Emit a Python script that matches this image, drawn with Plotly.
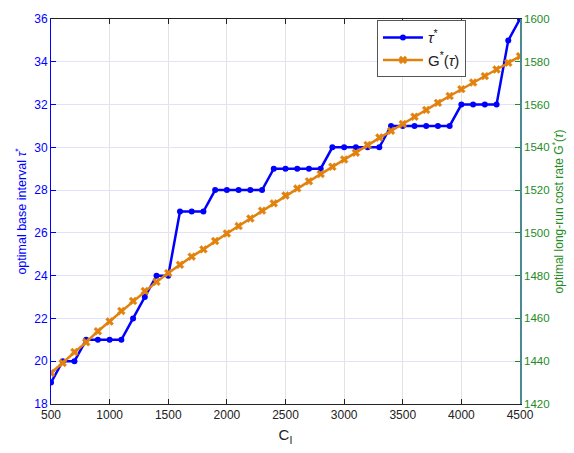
import plotly.graph_objects as go

# Inventory cost parameter C_I
c_i = [500, 600, 700, 800, 900, 1000, 1100, 1200, 1300, 1400, 1500,
       1600, 1700, 1800, 1900, 2000, 2100, 2200, 2300, 2400, 2500,
       2600, 2700, 2800, 2900, 3000, 3100, 3200, 3300, 3400, 3500,
       3600, 3700, 3800, 3900, 4000, 4100, 4200, 4300, 4400, 4500]

# Optimal base interval tau*
tau_opt = [19, 20, 20, 21, 21, 21, 21, 22, 23, 24, 24,
           27, 27, 27, 28, 28, 28, 28, 28, 29, 29,
           29, 29, 29, 30, 30, 30, 30, 30, 31, 31,
           31, 31, 31, 31, 32, 32, 32, 32, 35, 36]

# Optimal long-run cost rate G*(tau)
g_opt = [1434.5, 1439.2, 1444.3, 1448.9, 1454.0, 1458.6, 1463.5, 1468.2,
         1472.8, 1477.1, 1481.2, 1485.1, 1488.9, 1492.3, 1496.2, 1499.7,
         1503.2, 1506.7, 1510.4, 1513.8, 1517.5, 1520.8, 1524.1, 1527.5,
         1530.9, 1534.3, 1537.5, 1541.1, 1544.6, 1547.7, 1550.9, 1554.3,
         1557.5, 1560.8, 1564.0, 1567.2, 1570.3, 1573.3, 1576.4, 1579.5,
         1582.6]

BLUE = "#0000FF"
ORANGE = "#E2820E"
GREEN = "#1E8C1E"
TEAL = "#4A8A92"
FONT = "Liberation Sans, Arial, sans-serif"

fig = go.Figure()
fig.add_trace(go.Scatter(
    x=c_i, y=tau_opt, name="<i>τ</i><sup>*</sup>", mode="lines+markers",
    line=dict(color=BLUE, width=2.5),
    marker=dict(symbol="circle", size=6, color=BLUE),
    yaxis="y",
))
fig.add_trace(go.Scatter(
    x=c_i, y=g_opt, name="G<sup>*</sup>(<i>τ</i>)", mode="lines+markers",
    line=dict(color=ORANGE, width=2.5),
    marker=dict(symbol="x", size=7, color=ORANGE,
                line=dict(width=0.5, color=ORANGE)),
    yaxis="y2",
))

fig.update_layout(
    width=574, height=453,
    margin=dict(l=51, r=54, t=15, b=47),
    paper_bgcolor="white", plot_bgcolor="white",
    font=dict(family=FONT, size=11, color="#222222"),
    showlegend=True,
    legend=dict(
        x=0.695, y=0.997, xanchor="left", yanchor="top",
        bgcolor="white", bordercolor="#555555", borderwidth=1,
        font=dict(size=15, color="#222222"),
        tracegroupgap=0, itemwidth=40,
    ),
    xaxis=dict(
        range=[500, 4500], dtick=500, tick0=500,
        showgrid=True, gridcolor="#e3e3e3", gridwidth=1,
        showline=True, linecolor="#222222", linewidth=1, mirror="ticks",
        ticks="inside", ticklen=5, tickcolor="#222222",
        tickfont=dict(size=12, color="#222222"),
        zeroline=False,
        title=dict(text="C<sub>I</sub>", font=dict(size=15, color="#222222"),
                   standoff=8),
    ),
    yaxis=dict(
        range=[18, 36], dtick=2, tick0=18,
        showgrid=True, gridcolor="#e2e2ff", gridwidth=1,
        showline=True, linecolor=BLUE, linewidth=1,
        ticks="inside", ticklen=5, tickcolor=BLUE,
        tickfont=dict(size=12, color=BLUE),
        zeroline=False,
        title=dict(text="optimal base interval <i>τ</i><sup>*</sup>",
                   font=dict(size=12.5, color=BLUE), standoff=4),
    ),
    yaxis2=dict(
        range=[1420, 1600], dtick=20, tick0=1420,
        overlaying="y", side="right",
        showgrid=False,
        showline=True, linecolor=TEAL, linewidth=1.5,
        ticks="inside", ticklen=5, tickcolor=GREEN,
        tickfont=dict(size=11.5, color=GREEN),
        zeroline=False,
        title=dict(text="optimal long-run cost rate G<sup>*</sup>(<i>τ</i>)",
                   font=dict(size=12, color=GREEN), standoff=0),
    ),
)

fig.write_html("out.html")
